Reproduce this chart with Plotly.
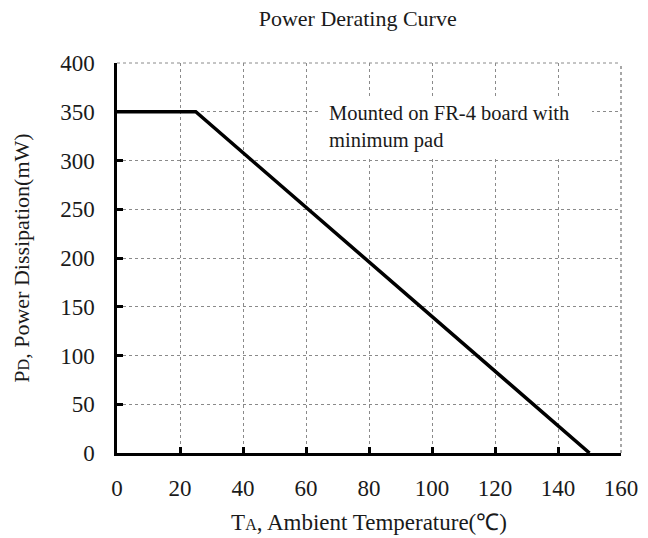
import plotly.graph_objects as go

# Derating curve breakpoints: ambient temperature (°C) vs. power dissipation (mW)
temp_c = [0, 25, 150]
power_mw = [350, 350, 0]

x_ticks = [0, 20, 40, 60, 80, 100, 120, 140, 160]
y_ticks = [0, 50, 100, 150, 200, 250, 300, 350, 400]

title_text = "Power Derating Curve"
x_title = "T<span style='font-size:16px'>A</span>, Ambient Temperature(℃)"
y_title = "P<span style='font-size:16px'>D</span>, Power Dissipation(mW)"
note_text = "Mounted on FR-4 board with<br>minimum pad"

serif = "Liberation Serif, Times New Roman, serif"
ink = "#1a1a1a"

fig = go.Figure()
fig.add_trace(go.Scatter(
    x=temp_c, y=power_mw, mode="lines",
    line=dict(color="black", width=3.5),
    showlegend=False, hoverinfo="skip",
))

# White note box sitting over the grid
fig.add_shape(type="rect", xref="x", yref="y",
              x0=64.4, x1=150.8, y0=302.5, y1=366,
              fillcolor="white", line=dict(width=0), layer="above")
fig.add_annotation(x=66.7, y=334, xref="x", yref="y", text=note_text,
                   showarrow=False, xanchor="left", yanchor="middle", align="left",
                   font=dict(family=serif, size=20.5, color=ink))

axis_common = dict(
    showgrid=True, gridcolor="#8a8a8a", griddash="dot", gridwidth=1,
    showline=True, linecolor="black", linewidth=2.5,
    ticks="inside", ticklen=6, tickwidth=2.5, tickcolor="black",
    tickfont=dict(family=serif, size=23, color=ink),
    zeroline=False, mirror=False, automargin=False,
)

fig.update_xaxes(range=[0, 160], tickvals=x_ticks, ticklabelstandoff=13,
                 title=dict(text=x_title, font=dict(family=serif, size=23, color=ink), standoff=14),
                 **axis_common)
fig.update_yaxes(range=[0, 400], tickvals=y_ticks, ticklabelstandoff=15,
                 title=dict(text=y_title, font=dict(family=serif, size=22, color=ink), standoff=25),
                 **axis_common)

# Gray frame on the top and right sides
fig.add_shape(type="line", xref="paper", yref="paper", x0=0, x1=1, y0=1, y1=1,
              line=dict(color="#8a8a8a", width=1, dash="dot"))
fig.add_shape(type="line", xref="paper", yref="paper", x0=1, x1=1, y0=0, y1=1,
              line=dict(color="#8a8a8a", width=1.5, dash="dot"))

fig.update_layout(
    width=648, height=538,
    margin=dict(l=117, r=27, t=63, b=85),
    paper_bgcolor="white", plot_bgcolor="white",
    title=dict(text=title_text, x=0.552, xanchor="center", y=0.966, yanchor="middle",
               font=dict(family=serif, size=22, color=ink)),
)

fig.write_html("out.html")
